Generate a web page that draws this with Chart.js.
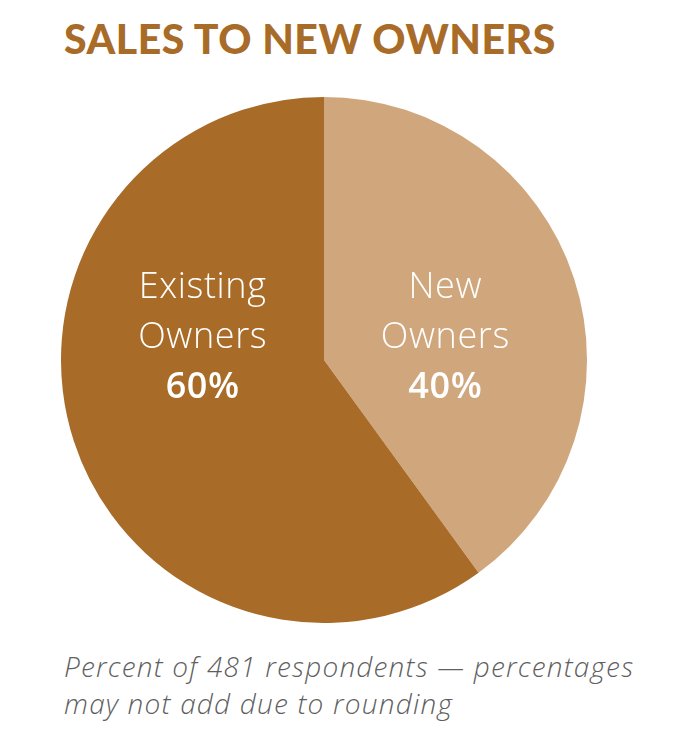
<!DOCTYPE html>
<html>
<head>
<meta charset="utf-8">
<script src="https://cdn.jsdelivr.net/npm/chart.js@4"></script>
<style>
  html, body { margin: 0; padding: 0; background: #fff; }
  body { width: 675px; height: 750px; position: relative; overflow: hidden; }
  #title {
    position: absolute; left: 64px; top: 14px;
    font-family: Lato, "Open Sans", sans-serif; font-weight: 900;
    font-size: 41px; color: #a86b28; letter-spacing: 0.5px; white-space: nowrap;
  }
  #wrap { position: absolute; left: 61px; top: 97px; width: 526px; height: 526px; }
  #note {
    position: absolute; left: 64px; top: 648px;
    font-family: "Open Sans", Lato, sans-serif; font-style: italic; font-weight: 300;
    font-size: 28px; line-height: 37px; letter-spacing: 1.2px; color: #5f5f5f; white-space: nowrap;
  }
</style>
</head>
<body>
<div id="title">SALES TO NEW OWNERS</div>
<div id="wrap"><canvas id="pie"></canvas></div>
<div id="note">Percent of 481 respondents — percentages<br>may not add due to rounding</div>
<script>
const categories = ["New Owners", "Existing Owners"];
const shares = [40, 60];
const labelLines = [["New", "Owners"], ["Existing", "Owners"]];
const colors = ["#d0a77d", "#a86b28"];

// writes the labels inside each slice
const sliceLabels = {
  id: "sliceLabels",
  afterDatasetsDraw(chart) {
    const ctx = chart.ctx;
    const meta = chart.getDatasetMeta(0);
    ctx.save();
    ctx.fillStyle = "#fff";
    ctx.textAlign = "center";
    ctx.textBaseline = "alphabetic";
    ctx.letterSpacing = "0.6px";
    meta.data.forEach((arc, i) => {
      const mid = (arc.startAngle + arc.endAngle) / 2;
      const x = arc.x + Math.cos(mid) * arc.outerRadius * 0.485;
      const cy = arc.y;
      ctx.font = "300 36px 'Open Sans', Lato, sans-serif";
      ctx.fillText(labelLines[i][0], x, cy - 62);
      ctx.fillText(labelLines[i][1], x, cy - 12);
      ctx.font = "600 36px 'Open Sans', Lato, sans-serif";
      ctx.fillText(shares[i] + "%", x, cy + 38);
    });
    ctx.restore();
  }
};

new Chart(document.getElementById("pie"), {
  type: "pie",
  data: {
    labels: categories,
    datasets: [{
      data: shares,
      backgroundColor: colors,
      borderWidth: 0
    }]
  },
  options: {
    responsive: true,
    maintainAspectRatio: false,
    animation: false,
    layout: { padding: 0 },
    plugins: {
      legend: { display: false },
      tooltip: { enabled: false }
    }
  },
  plugins: [sliceLabels]
});
</script>
</body>
</html>
